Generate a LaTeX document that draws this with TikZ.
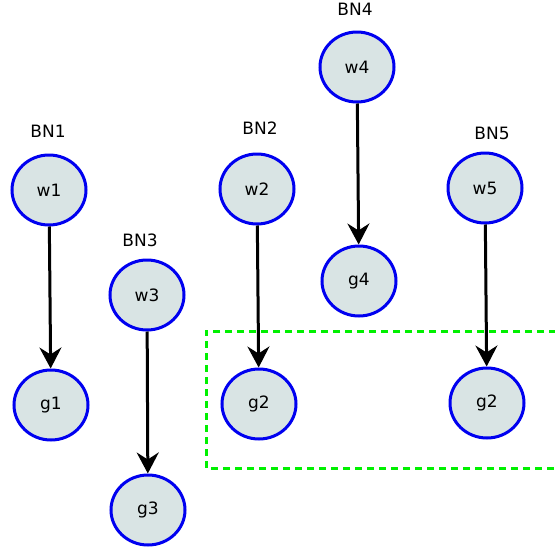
\documentclass[tikz,border=0pt]{standalone}
\usepackage{fontspec}
\setmainfont{DejaVu Sans}
\usetikzlibrary{arrows.meta,shapes.geometric}
\definecolor{node-fill}{RGB}{217, 228, 228}
\definecolor{node-border}{RGB}{0, 0, 240}
\definecolor{group-color}{RGB}{0, 240, 0}

\begin{document}
\begin{tikzpicture}[
    x=1pt, y=-1pt,
    var/.style={ellipse,draw=node-border,fill=node-fill,line width=3pt,
        minimum width=74pt,minimum height=70pt,inner sep=0pt,
        font=\fontsize{17}{20}\selectfont},
    lbl/.style={font=\fontsize{17}{20}\selectfont},
    link/.style={-{Stealth[length=21pt,width=22pt,inset=7pt]},line width=3pt}
]
\useasboundingbox (0,0) rectangle (555,552);
\node[var] (w1) at (49,190) {w1};
\node[var] (g1) at (51,405) {g1};
\node[var] (w3) at (147,295) {w3};
\node[var] (g3) at (148,510) {g3};
\node[var] (w2) at (257,189) {w2};
\node[var] (g2a) at (259,404) {g2};
\node[var] (w4) at (357,67) {w4};
\node[var] (g4) at (359,281) {g4};
\node[var] (w5) at (485,188) {w5};
\node[var] (g2b) at (487,403) {g2};
\node[lbl] (bn1) at (48,131) {BN1};
\node[lbl] (bn3) at (140,240) {BN3};
\node[lbl] (bn2) at (260,128) {BN2};
\node[lbl] (bn4) at (355,9) {BN4};
\node[lbl] (bn5) at (492,133) {BN5};
\draw[link] (w1) -- (g1);
\draw[link] (w3) -- (g3);
\draw[link] (w2) -- (g2a);
\draw[link] (w4) -- (g4);
\draw[link] (w5) -- (g2b);
% group of the two g2
\coordinate (gtr) at (556,331);
\coordinate (gtl) at (206,331);
\coordinate (gbl) at (206,468);
\coordinate (gbr) at (556,468);
\draw[group-color,line width=3pt,dash pattern=on 7pt off 5pt] (gtr) -- (gtl) -- (gbl) -- (gbr);
\end{tikzpicture}
\end{document}
